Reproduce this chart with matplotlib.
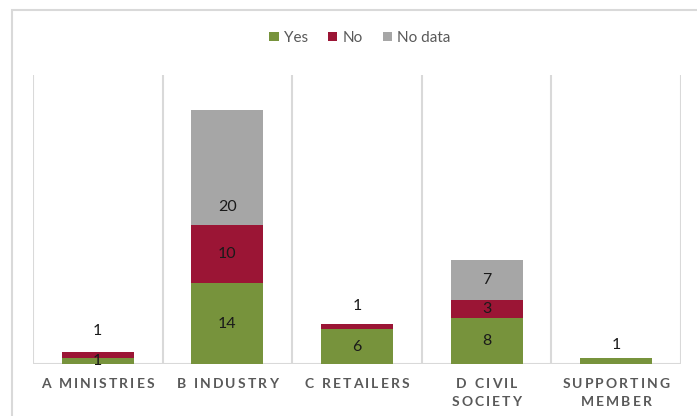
import matplotlib
matplotlib.use("Agg")
import matplotlib.pyplot as plt
from matplotlib.patches import Rectangle, Patch
from matplotlib.font_manager import FontProperties
import numpy as np

plt.rcParams['font.family'] = ['Lato', 'DejaVu Sans']

categories = ["A MINISTRIES", "B INDUSTRY", "C RETAILERS", "D CIVIL\nSOCIETY", "SUPPORTING\nMEMBER"]
yes_vals = [1, 14, 6, 8, 1]
no_vals = [1, 10, 1, 3, 0]
nodata_vals = [0, 20, 0, 7, 0]
series_names = ["Yes", "No", "No data"]
colors = ["#77933C", "#9B1535", "#A6A6A6"]

# label heights (data units) for labels placed away from the segment centre
label_y_override = {(0, 1): 5.7, (1, 2): 27.1, (2, 1): 10.0, (4, 0): 3.3}

W, H = 697, 416
fig = plt.figure(figsize=(W / 100, H / 100), dpi=100)

# chart frame
fig.patches.append(Rectangle((12 / W, -0.1), 1.2, 1 - 10 / H + 0.1, transform=fig.transFigure,
                             fill=False, edgecolor="#D9D9D9", linewidth=1.5))

left, right, top, bottom = 33, 681, 75, 364
ax = fig.add_axes([left / W, 1 - bottom / H, (right - left) / W, (bottom - top) / H])

n = len(categories)
x = np.arange(n)
width = 1 / 1.8
series = [yes_vals, no_vals, nodata_vals]
base = np.zeros(n)
for s, (vals, col) in enumerate(zip(series, colors)):
    vals = np.array(vals, dtype=float)
    ax.bar(x, vals, width=width, bottom=base, color=col, edgecolor="none", zorder=3)
    for i, v in enumerate(vals):
        if v <= 0:
            continue
        y = label_y_override.get((i, s), base[i] + v / 2)
        ax.text(x[i], y, f"{int(v)}", ha="center", va="center", fontsize=11.5,
                color="#1A1A1A", zorder=5)
    base += vals

ax.set_xlim(-0.5, n - 0.5)
ax.set_ylim(0, 50)
for sp in ax.spines.values():
    sp.set_visible(False)
ax.set_xticks([])
ax.set_yticks([])

# category separators and baseline
for b in np.arange(-0.5, n, 1.0):
    ax.axvline(b, color="#D9D9D9", linewidth=1.5, zorder=1)
ax.axhline(0, color="#D9D9D9", linewidth=1.5, zorder=2)

# letter-spaced category labels, laid out character by character
renderer = fig.canvas.get_renderer()
fp = FontProperties(family=['Lato', 'DejaVu Sans'], weight='bold', size=10)
tracking = 2.1      # extra pixels between letters
line_gap = 18       # pixels between label lines
first_line_y = 384.5  # pixels from the top of the figure
for i, c in enumerate(categories):
    cx = ax.transData.transform((x[i], 0))[0]
    for k, line in enumerate(c.split("\n")):
        widths = [renderer.get_text_width_height_descent(ch, fp, ismath=False)[0] for ch in line]
        total = sum(widths) + tracking * (len(line) - 1)
        px = cx - total / 2
        py = H - (first_line_y + k * line_gap)
        for ch, w in zip(line, widths):
            fig.text(px / W, py / H, ch, fontproperties=fp, color="#595959",
                     ha="left", va="center")
            px += w + tracking

handles = [Patch(facecolor=c, edgecolor="none") for c in colors]
fig.legend(handles, series_names, loc="center", bbox_to_anchor=(360 / W, 1 - 38 / H),
           ncol=3, frameon=False, fontsize=11, handlelength=0.6, handleheight=0.6,
           handletextpad=0.35, columnspacing=1.3, labelcolor="#595959")

fig.savefig("out.png", dpi=100)
